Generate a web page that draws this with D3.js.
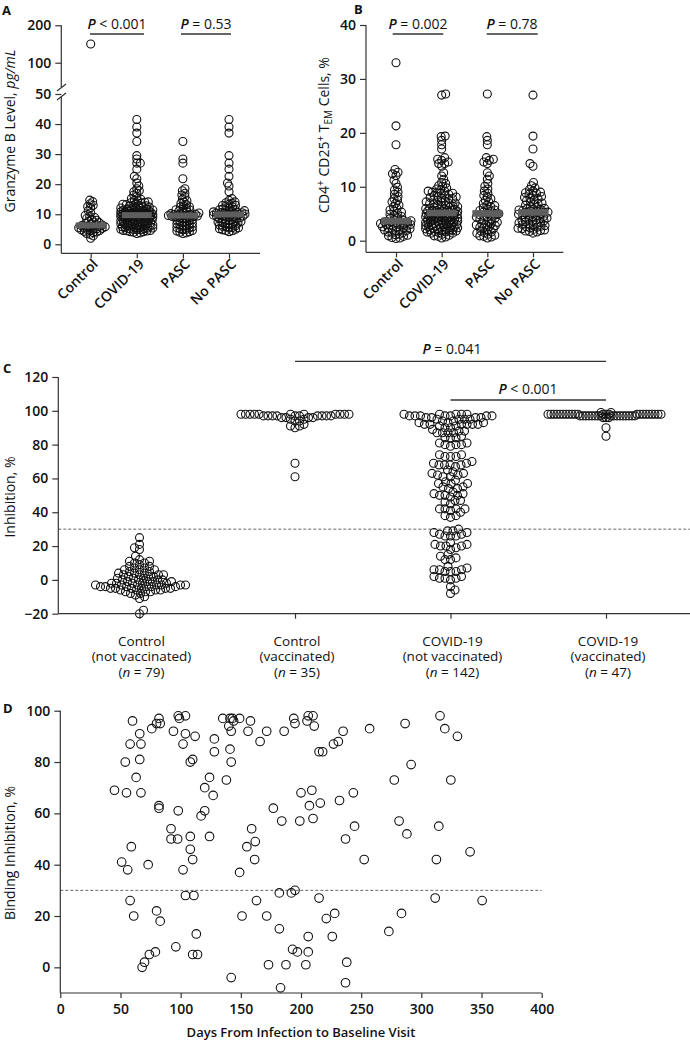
<!DOCTYPE html>
<html><head><meta charset="utf-8">
<script src="https://cdn.jsdelivr.net/npm/d3@7"></script>
<style>
body{margin:0;background:#fff}
svg{display:block}
text{font-family:"Open Sans",sans-serif;fill:#111}
</style>
</head><body>
<svg id="chart" width="690" height="1041"></svg>
<script>
// ---------------- DATA ----------------
const groupsAB = ["Control", "COVID-19", "PASC", "No PASC"];

// Panel A: Granzyme B level, pg/mL
const granzymeControl = [150, 14.7, 14.2, 13.5, 13, 12.6, 12.2, 11.2, 10.5, 9.6, 9.2, 8.9, 8.6, 8.3, 8, 7.7, 7.4, 7.2, 7, 6.8, 6.6, 6.4, 6.2, 6.1, 6, 5.9, 5.8, 5.6, 5.5, 5.4, 5.3, 5.2, 5, 4.9, 4.8, 4.6, 4.5, 4.3, 4.1, 3.9, 3.6, 3.3, 2.8, 2.0];
const granzymePASC = [34.2, 28.4, 27, 21.8, 18.5, 17.8, 17, 16.4, 15.8, 15, 14.5, 14, 13.6, 13.2, 12.8, 12.4, 12, 11.7, 11.4, 11.1, 10.8, 10.6, 10.4, 10.2, 10, 9.9, 9.8, 9.7, 9.6, 9.5, 9.4, 9.3, 9.2, 9, 8.8, 8.6, 8.4, 8.2, 8, 7.8, 7.6, 7.4, 7.2, 7, 6.8, 6.6, 6.4, 6.2, 6, 5.8, 5.6, 5.4, 5.2, 5, 4.8, 4.6, 4.4, 4.2, 4, 3.8, 3.6, 10.1, 9.7, 8.9, 11.5, 12.5];
const granzymeNoPASC = [41.5, 39, 37, 29.5, 27, 25, 22.6, 20.4, 19.4, 17.5, 15.2, 14.6, 14.1, 13.7, 13.3, 13, 12.7, 12.4, 12.1, 11.8, 11.6, 11.4, 11.2, 11, 10.8, 10.6, 10.5, 10.4, 10.3, 10.2, 10.1, 10, 9.9, 9.8, 9.7, 9.6, 9.5, 9.4, 9.3, 9.2, 9.1, 9, 8.8, 8.6, 8.4, 8.2, 8, 7.8, 7.6, 7.4, 7.2, 7, 6.8, 6.6, 6.4, 6.2, 6, 5.8, 5.6, 5.4, 5.2, 5, 4.8, 4.5, 4.2, 10.9, 10.7, 9.95, 12.9, 11.5, 7.5, 6.9, 13.8, 8.5, 5.5, 4.6];
const granzymeTicksLow = [0, 10, 20, 30, 40, 50];
const granzymeTicksHigh = [100, 200];
const pValuesA = ["< 0.001", "= 0.53"];

// Panel B: CD4+ CD25+ TEM cells, %
const cd4Control = [33, 21.3, 17.8, 13.2, 12.7, 12.4, 12.1, 11.2, 10.6, 9.9, 9.4, 9, 8.6, 8.2, 7.8, 7.5, 7.2, 6.9, 6.6, 6.3, 6, 5.7, 5.5, 5.3, 5.1, 4.9, 4.7, 4.5, 4.3, 4.1, 3.9, 3.8, 3.7, 3.6, 3.5, 3.4, 3.3, 3.2, 3.1, 3, 2.9, 2.8, 2.7, 2.6, 2.5, 2.4, 2.3, 2.2, 2.1, 2, 1.9, 1.8, 1.6, 1.4, 1.2, 1, 0.8, 0.6, 0.4, 2.9, 3.4, 1.5, 0.5, 1.1, 2.0, 0.9];
const cd4PASC = [27.2, 19.3, 18.6, 17.8, 15.4, 15.1, 14.9, 14.6, 14.3, 12.6, 12, 11.4, 10.6, 10.1, 9.6, 9.2, 8.8, 8.4, 8.1, 7.8, 7.5, 7.2, 6.9, 6.6, 6.3, 6.1, 5.9, 5.7, 5.5, 5.3, 5.1, 5, 4.9, 4.8, 4.7, 4.6, 4.4, 4.2, 4, 3.8, 3.6, 3.4, 3.2, 3, 2.8, 2.6, 2.4, 2.2, 2, 1.8, 1.6, 1.4, 1.2, 1, 0.8, 0.7, 0.5, 5.6, 3.9, 2.5, 4.3, 6.5, 1.5, 3.1, 2.9, 0.9];
const cd4NoPASC = [27, 19.4, 17, 14.3, 13.8, 10.8, 10.2, 9.8, 9.5, 9.2, 9, 8.8, 8.6, 8.4, 8.2, 8, 7.8, 7.6, 7.4, 7.2, 7, 6.8, 6.6, 6.4, 6.2, 6, 5.9, 5.8, 5.7, 5.6, 5.5, 5.4, 5.3, 5.3, 5.2, 5.1, 5, 4.9, 4.8, 4.7, 4.6, 4.5, 4.4, 4.3, 4.2, 4.1, 4, 3.9, 3.8, 3.7, 3.6, 3.5, 3.4, 3.3, 3.2, 3.1, 3, 2.9, 2.8, 2.7, 2.6, 2.5, 2.4, 2.3, 2.2, 2.1, 2, 1.9, 1.8, 1.7, 1.6, 1.4, 8.9, 7.9, 6.9, 5.95];
const cd4Ticks = [0, 10, 20, 30, 40];
const pValuesB = ["= 0.002", "= 0.78"];

// Panel C: inhibition, %
const inhibLine1 = ["Control", "Control", "COVID-19", "COVID-19"];
const inhibLine2 = ["(not vaccinated)", "(vaccinated)", "(not vaccinated)", "(vaccinated)"];
const inhibN = [79, 35, 142, 47];
const inhibControlNotVacc = [25, 21, 19, 18, 14, 12, 11, 11, 10, 10, 9, 8, 8, 7, 7, 6, 6, 6, 5, 5, 4, 4, 4, 3, 3, 3, 3, 2, 2, 2, 1, 1, 1, 0, 0, 0, 0, -1, -1, -1, -1, -2, -2, -2, -2, -2, -3, -3, -3, -3, -3, -3, -3, -4, -4, -4, -4, -4, -4, -5, -5, -5, -5, -5, -5, -6, -6, -6, -6, -7, -7, -7, -8, -8, -9, -10, -11, -18, -20];
const inhibControlVacc = [97, 98, 97, 98, 97, 96, 98, 97, 98, 98, 97, 96, 98, 97, 98, 97, 98, 96, 97, 98, 97, 98, 97, 96, 98, 95, 94, 95, 94, 91, 90, 91, 92, 69, 61];
const inhibCovidVacc = [98, 97, 98, 97, 98, 98, 97, 99, 98, 97, 98, 97, 98, 98, 97, 96, 98, 97, 98, 98, 97, 98, 97, 99, 98, 97, 98, 98, 97, 98, 96, 97, 98, 97, 98, 98, 97, 98, 97, 98, 97, 98, 96, 98, 97, 90, 85];
const inhibTicks = [-20, 0, 20, 40, 60, 80, 100, 120];
const pValuesC = ["= 0.041", "< 0.001"];

// Panel D: days from infection vs binding inhibition (COVID-19, not vaccinated)
const daysD = [45, 51, 54, 55, 56, 58, 58, 59, 60, 61, 63, 66, 66, 67, 67, 68, 70, 73, 74, 76, 79, 80, 80, 82, 82, 82, 83, 83, 94, 92, 92, 96, 97.5, 98, 98, 99, 102, 102, 104, 104, 104, 108, 108, 108, 110, 110, 111, 110, 112, 113, 114, 117, 120, 120, 124, 124, 127, 128, 128, 135, 138, 140, 141, 142, 142, 142, 141, 143, 144, 149, 149, 151, 156, 155, 158, 159, 162, 161.5, 163, 166, 171.5, 171.5, 173, 177, 182, 182, 184, 183, 186, 187.5, 192, 193, 194, 195, 195, 197, 199, 200, 204, 205, 206, 207, 206, 206, 209, 210, 210, 211, 215, 215, 216, 218, 221, 227, 228, 226, 231, 232, 235, 237, 238, 237, 243.5, 244.5, 252.5, 257, 273, 277.5, 281.5, 283.5, 286.5, 288, 291.5, 311.5, 312.5, 314.5, 315.5, 319.5, 324.5, 330, 340.5, 350.5];
const inhibD = [69, 41, 80, 68, 38, 87, 26, 47, 96, 20, 74, 91, 81, 87, 68, 0, 2, 40, 5, 93, 6, 22, 95, 97, 63, 62, 95, 18, 92, 54, 50, 8, 50, 61, 98, 97, 87, 38, 98, 91, 28, 51, 46, 80, 81, 42, 28, 5, 90, 13, 5, 59, 61, 70, 74, 51, 67, 84, 89, 97, 73, 94, 85, 80, 92, -4, 97, 97, 96, 97, 37, 20, 92, 47, 96, 54, 49, 42, 26, 88, 92, 20, 1, 62, 29, 15, 57, -8, 92, 1, 29, 7, 97, 95, 30, 6, 57, 68, 1, 96, 98, 63, 12, 6, 69, 98, 58, 94, 27, 84, 64, 84, 19, 87, 21, 12, 88, 65, 92, 50, 2, -6, 68, 55, 42, 93, 14, 73, 57, 21, 95, 52, 79, 27, 42, 55, 98, 93, 73, 90, 45, 26];
const daysTicks = [0, 50, 100, 150, 200, 250, 300, 350, 400];
const bindTicks = [0, 20, 40, 60, 80, 100];
const threshold = 30;

// ---------------- HELPERS ----------------
const svg = d3.select("#chart");
const AX = "#333";
const TICK_FS = 14;

function dodge(values, yOf, d, maxHalf) {
  const pts = values.map((v, i) => ({ v, y: yOf(v), dx: 0 }));
  const order = pts.slice().sort((a, b) => a.v - b.v);
  const placed = [];
  order.forEach((p, k) => {
    let best = 0, bestMin = -1;
    const sgn = k % 2 ? 1 : -1;
    const nSteps = Math.round(maxHalf / 0.5) * 2;
    for (let s = 0; s <= nSteps; s++) {
      const off = s === 0 ? 0 : (s % 2 ? sgn : -sgn) * Math.ceil(s / 2) * 0.5;
      let mn = Infinity;
      for (const q of placed) {
        const ddy = q.y - p.y;
        if (Math.abs(ddy) >= d) continue;
        const ddx = q.dx - off;
        const dist = Math.sqrt(ddx * ddx + ddy * ddy);
        if (dist < mn) mn = dist;
      }
      if (mn >= d) { best = off; bestMin = mn; break; }
      if (mn > bestMin) { bestMin = mn; best = off; }
    }
    p.dx = best;
    placed.push(p);
  });
  return pts;
}

function styleAxis(g) {
  g.selectAll("path.domain").remove();
  g.selectAll(".tick line").attr("stroke", AX).attr("stroke-width", 1.2);
  g.selectAll(".tick text").attr("font-family", "Open Sans").attr("font-size", TICK_FS).attr("font-weight", 600).attr("fill", "#111");
}

function pLabel(g, x, y, rest) {
  const t = g.append("text").attr("x", x).attr("y", y).attr("text-anchor", "middle").attr("font-size", 14).attr("font-weight", 500);
  t.append("tspan").attr("font-style", "italic").attr("font-weight", 600).text("P");
  t.append("tspan").text(" " + rest);
}

function hline(x1, x2, y, w) {
  svg.append("line").attr("x1", x1).attr("x2", x2).attr("y1", y).attr("y2", y).attr("stroke", AX).attr("stroke-width", w || 1.2);
}
function vline(x, y1, y2) {
  svg.append("line").attr("x1", x).attr("x2", x).attr("y1", y1).attr("y2", y2).attr("stroke", AX).attr("stroke-width", 1.2);
}

function panelLetter(s, x, y) {
  svg.append("text").attr("x", x).attr("y", y).attr("font-size", 13).attr("font-weight", 700).text(s);
}

function drawSwarm(g, values, x0, yOf, d, maxHalf, r) {
  const pts = dodge(values, yOf, d, maxHalf);
  g.selectAll(null).data(pts).join("circle")
    .attr("cx", p => x0 + p.dx).attr("cy", p => p.y).attr("r", r)
    .attr("fill", "none").attr("stroke", "#111").attr("stroke-width", 1.1);
}

function rotatedXLabels(g, scale, yTop) {
  scale.domain().forEach(c => {
    g.append("text")
      .attr("transform", `translate(${scale(c) + 8},${yTop}) rotate(-45)`)
      .attr("text-anchor", "end").attr("font-size", 14).attr("font-weight", 600)
      .text(c);
  });
}

// ---------------- PANEL A ----------------
{
  const g = svg.append("g");
  const x = d3.scalePoint(groupsAB, [90.7, 229]);
  const yLow = d3.scaleLinear([0, 50], [244.3, 94]);
  const yHigh = d3.scaleLinear([100, 200], [62.7, 25.3]);
  const yA = v => v <= 60 ? yLow(v) : yHigh(v);
  const covid = granzymePASC.concat(granzymeNoPASC);
  const sets = [granzymeControl, covid, granzymePASC, granzymeNoPASC];

  g.append("g").attr("transform", "translate(61.3,0)").call(d3.axisLeft(yLow).tickValues(granzymeTicksLow).tickSize(6).tickPadding(4)).call(styleAxis);
  g.append("g").attr("transform", "translate(61.3,0)").call(d3.axisLeft(yHigh).tickValues(granzymeTicksHigh).tickSize(6).tickPadding(4)).call(styleAxis);
  vline(61.3, 25.3, 87);
  vline(61.3, 97, 253.3);
  svg.append("line").attr("x1", 57).attr("x2", 66).attr("y1", 91).attr("y2", 84).attr("stroke", AX).attr("stroke-width", 1.2);
  svg.append("line").attr("x1", 57).attr("x2", 66).attr("y1", 100).attr("y2", 93).attr("stroke", AX).attr("stroke-width", 1.2);
  hline(61.3, 260, 253.3);
  g.append("g").attr("transform", "translate(0,253.3)").call(d3.axisBottom(x).tickSize(5).tickFormat("")).call(styleAxis);

  sets.forEach((vals, i) => drawSwarm(g, vals, x(groupsAB[i]), yA, 3.2, 16, 4));
  sets.forEach((vals, i) => {
    const m = d3.median(vals);
    g.append("rect").attr("x", x(groupsAB[i]) - 15).attr("width", 30).attr("y", yA(m) - 3).attr("height", 6).attr("fill", "#5e5e5e");
  });
  rotatedXLabels(g, x, 265);

  const yl = g.append("text").attr("transform", "translate(14.5,131) rotate(-90)").attr("text-anchor", "middle").attr("font-size", 14);
  yl.append("tspan").text("Granzyme B Level, ");
  yl.append("tspan").attr("font-style", "italic").text("pg/mL");

  hline(90, 144, 34, 1.3); pLabel(g, 117, 28.5, pValuesA[0]);
  hline(181, 231, 34, 1.3); pLabel(g, 206, 28.5, pValuesA[1]);
  panelLetter("A", 2, 15);
}

// ---------------- PANEL B ----------------
{
  const g = svg.append("g");
  const x = d3.scalePoint(groupsAB, [396, 533]);
  const y = d3.scaleLinear([0, 40], [240.7, 25]);
  const covid = cd4PASC.concat(cd4NoPASC);
  const sets = [cd4Control, covid, cd4PASC, cd4NoPASC];

  g.append("g").attr("transform", "translate(366,0)").call(d3.axisLeft(y).tickValues(cd4Ticks).tickSize(6).tickPadding(4)).call(styleAxis);
  vline(366, 25, 252.3);
  hline(366, 563.3, 252.3);
  g.append("g").attr("transform", "translate(0,252.3)").call(d3.axisBottom(x).tickSize(5).tickFormat("")).call(styleAxis);

  sets.forEach((vals, i) => drawSwarm(g, vals, x(groupsAB[i]), y, 3.8, 16, 4));
  sets.forEach((vals, i) => {
    const m = d3.median(vals);
    g.append("rect").attr("x", x(groupsAB[i]) - 15).attr("width", 30).attr("y", y(m) - 3.3).attr("height", 6.6).attr("fill", "#5e5e5e");
  });
  rotatedXLabels(g, x, 265);

  const yl = g.append("text").attr("transform", "translate(329,135) rotate(-90)").attr("text-anchor", "middle").attr("font-size", 14);
  yl.append("tspan").text("CD4");
  yl.append("tspan").attr("font-size", 10).attr("dy", -5).text("+");
  yl.append("tspan").attr("dy", 5).text(" CD25");
  yl.append("tspan").attr("font-size", 10).attr("dy", -5).text("+");
  yl.append("tspan").attr("dy", 5).text(" T");
  yl.append("tspan").attr("font-size", 10).attr("dy", 3).text("EM");
  yl.append("tspan").attr("dy", -3).text(" Cells, %");

  hline(392.7, 443.3, 34, 1.3); pLabel(g, 418, 28.5, pValuesB[0]);
  hline(486.7, 537.7, 34, 1.3); pLabel(g, 512, 28.5, pValuesB[1]);
  panelLetter("B", 354, 14);
}

// ---------------- PANEL C ----------------
{
  const g = svg.append("g");
  const cats = inhibLine1.map((d, i) => i);
  const x = d3.scalePoint(cats, [139.5, 606]);
  const y = d3.scaleLinear([-20, 120], [613.7, 377]);
  const sets = [inhibControlNotVacc, inhibControlVacc, inhibD, inhibCovidVacc];
  const dd = [5, 4.5, 5.5, 2.6];

  g.append("g").attr("transform", "translate(58.3,0)").call(d3.axisLeft(y).tickValues(inhibTicks).tickSize(6).tickPadding(4)).call(styleAxis);
  vline(58.3, 377, 613.7);
  hline(58.3, 690, 613.7);
  g.append("g").attr("transform", "translate(0,613.7)").call(d3.axisBottom(x).tickSize(5).tickFormat("")).call(styleAxis);

  g.append("line").attr("x1", 58.3).attr("x2", 690).attr("y1", y(threshold)).attr("y2", y(threshold))
    .attr("stroke", "#555").attr("stroke-width", 0.9).attr("stroke-dasharray", "3,2");

  sets.forEach((vals, i) => drawSwarm(g, vals, x(i), y, dd[i], 62, 4));

  cats.forEach(i => {
    const cx = x(i) + 2;
    const t = g.append("text").attr("x", cx).attr("y", 645.5).attr("text-anchor", "middle").attr("font-size", 13.5);
    t.append("tspan").attr("x", cx).attr("dy", 0).text(inhibLine1[i]);
    t.append("tspan").attr("x", cx).attr("dy", 15.5).text(inhibLine2[i]);
    t.append("tspan").attr("x", cx).attr("dy", 16).text("(");
    t.append("tspan").attr("font-style", "italic").text("n");
    t.append("tspan").text(" = " + inhibN[i] + ")");
  });

  g.append("text").attr("transform", "translate(14.5,497) rotate(-90)").attr("text-anchor", "middle").attr("font-size", 14).text("Inhibition, %");

  hline(x(1), x(3), 361.3, 1.3); pLabel(g, 452, 353.5, pValuesC[0]);
  hline(x(2), x(3), 400, 1.3); pLabel(g, 528, 393.5, pValuesC[1]);
  panelLetter("C", 3, 373);
}

// ---------------- PANEL D ----------------
{
  const g = svg.append("g");
  const x = d3.scaleLinear([0, 400], [60.3, 541.7]);
  const y = d3.scaleLinear([-10, 100], [993, 710.7]);

  g.append("g").attr("transform", "translate(60.3,0)").call(d3.axisLeft(y).tickValues(bindTicks).tickSize(6).tickPadding(4)).call(styleAxis);
  vline(60.3, 710.7, 993);
  hline(60.3, 541.7, 993);
  g.append("g").attr("transform", "translate(0,993)").call(d3.axisBottom(x).tickValues(daysTicks).tickSize(5).tickPadding(6)).call(styleAxis);

  g.append("line").attr("x1", 60.3).attr("x2", 541.7).attr("y1", y(threshold)).attr("y2", y(threshold))
    .attr("stroke", "#555").attr("stroke-width", 0.9).attr("stroke-dasharray", "3,2");

  g.selectAll(null).data(daysD).join("circle")
    .attr("cx", (d) => x(d)).attr("cy", (d, i) => y(inhibD[i])).attr("r", 4.3)
    .attr("fill", "none").attr("stroke", "#111").attr("stroke-width", 1.1);

  g.append("text").attr("transform", "translate(14.5,853) rotate(-90)").attr("text-anchor", "middle").attr("font-size", 14).text("Binding Inhibition, %");
  g.append("text").attr("x", 301).attr("y", 1037).attr("text-anchor", "middle").attr("font-size", 13).attr("font-weight", 600).text("Days From Infection to Baseline Visit");
  panelLetter("D", 3, 713);
}
</script>
</body></html>
